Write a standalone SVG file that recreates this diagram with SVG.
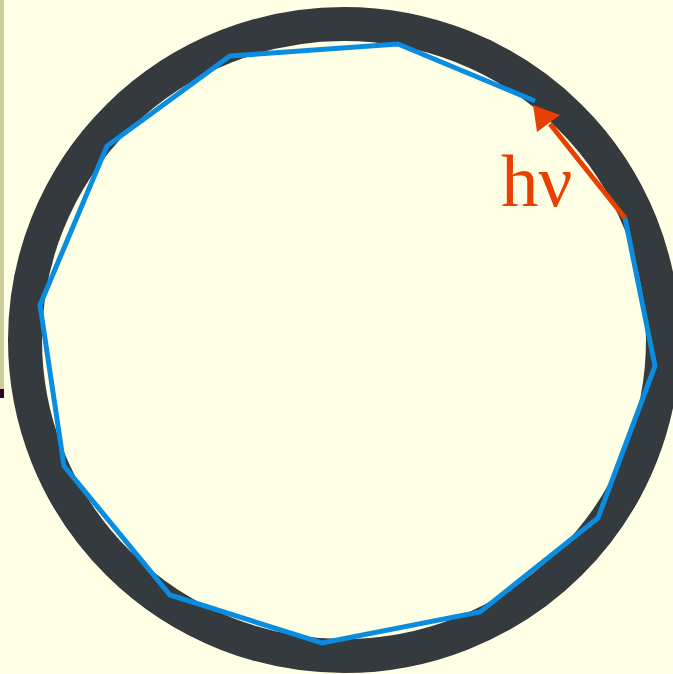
<svg xmlns="http://www.w3.org/2000/svg" width="673" height="674" viewBox="0 0 673 674">
<style>
.ring{fill:none;stroke:#343a3d;stroke-width:34}
.poly{fill:none;stroke:#0a8ce0;stroke-width:5;stroke-linejoin:miter}
.photon{stroke:#e84000;stroke-width:5;fill:none}
.lbl{font-family:"Liberation Serif","DejaVu Serif",serif;font-size:75px;fill:#e84000}
</style>
<rect x="0" y="0" width="673" height="674" fill="#ffffe6"/>
<rect x="0" y="0" width="4" height="389" fill="#cccc99"/>
<rect x="0" y="389" width="4" height="9" fill="#330033"/>
<g id="ring"><ellipse class="ring" cx="344" cy="340" rx="319" ry="316"/></g>
<g id="polygon"><polyline class="poly" points="535,101 398,44 230,56 107,146 40,305 64,466 170,595 322,643 480,612 598,518 655,366 625,218"/></g>
<g id="connectors">
<line class="photon" x1="625" y1="218" x2="550" y2="124"/>
<polygon points="533,105 537,132 560,115" fill="#e84000"/>
</g>
<g id="label"><text class="lbl" x="501" y="206">hν</text></g>
</svg>
